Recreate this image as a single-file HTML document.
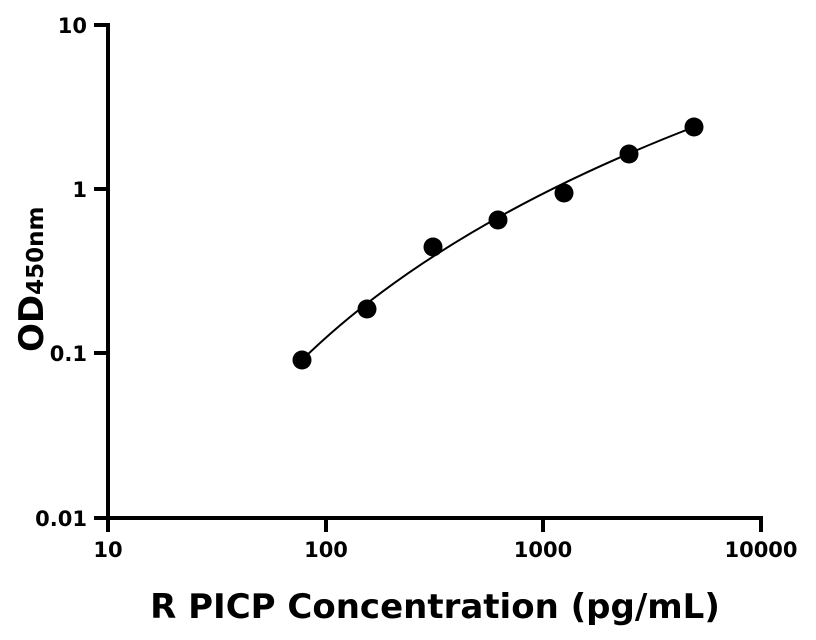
<!DOCTYPE html>
<html><head><style>body{margin:0;background:#fff}svg{display:block}</style></head><body>
<svg width="816" height="640" xmlns="http://www.w3.org/2000/svg" font-family="DejaVu Sans, Liberation Sans, sans-serif" font-weight="bold">
<g stroke="#000" stroke-width="4" fill="none">
<line x1="108" y1="23" x2="108" y2="532"/>
<line x1="94" y1="518" x2="763" y2="518"/>
<line x1="94" y1="25" x2="108" y2="25"/>
<line x1="94" y1="189" x2="108" y2="189"/>
<line x1="94" y1="353" x2="108" y2="353"/>
<line x1="326" y1="518" x2="326" y2="532"/>
<line x1="543" y1="518" x2="543" y2="532"/>
<line x1="761" y1="518" x2="761" y2="532"/>
</g>
<path d="M302,360 Q440,225 694,127" stroke="#000" stroke-width="2" fill="none"/>
<g fill="#000">
<circle cx="302" cy="360" r="9.5"/><circle cx="367" cy="309" r="9.5"/><circle cx="433" cy="247" r="9.5"/><circle cx="498" cy="220" r="9.5"/><circle cx="564" cy="193" r="9.5"/><circle cx="629" cy="154" r="9.5"/><circle cx="694" cy="127" r="9.5"/>
</g>
<g font-size="21" text-anchor="end">
<text x="87" y="33">10</text><text x="87" y="197">1</text><text x="87" y="361">0.1</text><text x="87" y="526">0.01</text>
</g>
<g font-size="21" text-anchor="middle">
<text x="108" y="557">10</text><text x="326" y="557">100</text><text x="543" y="557">1000</text><text x="761" y="557">10000</text>
</g>
<text x="435" y="618" font-size="34" text-anchor="middle">R PICP Concentration (pg/mL)</text>
<text transform="translate(43,352) rotate(-90)" font-size="34">OD<tspan font-size="23">450nm</tspan></text>
</svg>
</body></html>
